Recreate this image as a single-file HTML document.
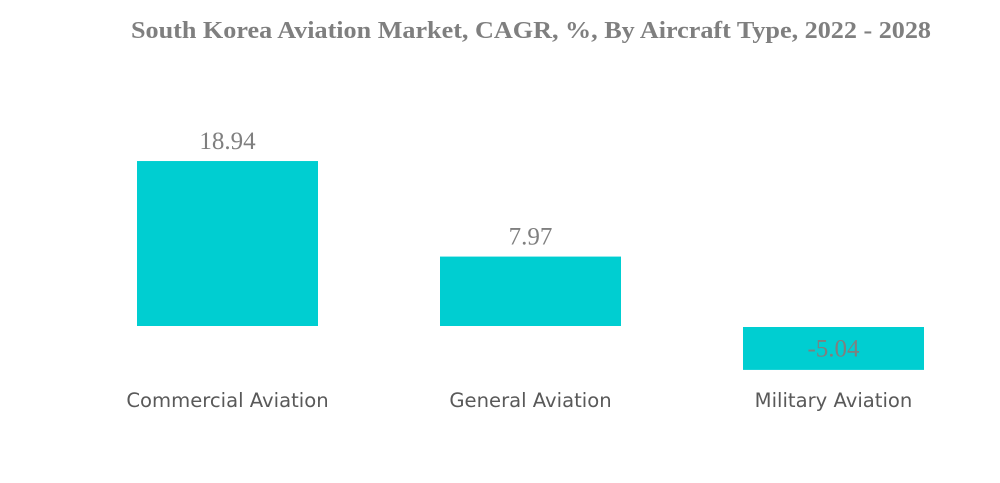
<!DOCTYPE html>
<html><head><meta charset="utf-8"><style>
html,body{margin:0;padding:0;background:#fff;width:1000px;height:483px;overflow:hidden}
</style></head><body>
<svg id="chart" width="1000" height="483" xmlns="http://www.w3.org/2000/svg">
<text x="531" y="38" text-anchor="middle" textLength="800" lengthAdjust="spacingAndGlyphs" font-family="Liberation Serif, serif" font-weight="bold" font-size="24" fill="#7f7f7f">South Korea Aviation Market, CAGR, %, By Aircraft Type, 2022 - 2028</text>
<g id="bars"></g>
</svg>
<script>
const categories = ["Commercial Aviation", "General Aviation", "Military Aviation"];
const values = [18.94, 7.97, -5.04];
const valueLabels = ["18.94", "7.97", "-5.04"];

const zeroY = 326, pxPerUnit = 8.71;
function yScale(v){ return zeroY - v * pxPerUnit; }
function xScale(i){ return 137 + i * 303; }
const barW = 181;
const g = document.getElementById('bars');
const NS = 'http://www.w3.org/2000/svg';
values.forEach((v, i) => {
  const x = xScale(i);
  let y0 = Math.min(yScale(v), zeroY), h = Math.abs(yScale(v) - zeroY);
  if (v < 0) { y0 += 1; h -= 1; }
  const r = document.createElementNS(NS, 'rect');
  r.setAttribute('x', x); r.setAttribute('y', y0);
  r.setAttribute('width', barW); r.setAttribute('height', h);
  r.setAttribute('fill', '#00ced1');
  
  
  g.appendChild(r);
  const t = document.createElementNS(NS, 'text');
  t.setAttribute('x', x + barW / 2);
  t.setAttribute('y', v >= 0 ? yScale(v) - 12 : zeroY + h / 2 + 9);
  t.setAttribute('text-anchor', 'middle');
  t.setAttribute('font-family', 'Liberation Serif, serif');
  t.setAttribute('font-size', '25');
  t.setAttribute('fill', '#7f7f7f');
  t.textContent = valueLabels[i];
  
  
  g.appendChild(t);
  const c = document.createElementNS(NS, 'text');
  c.setAttribute('x', x + barW / 2);
  c.setAttribute('y', 407);
  c.setAttribute('text-anchor', 'middle');
  c.setAttribute('font-family', 'DejaVu Sans, Liberation Sans, sans-serif');
  c.setAttribute('font-size', '19.6');
  c.setAttribute('fill', '#595959');
  c.textContent = categories[i];
  
  
  g.appendChild(c);
});
</script>
</body></html>
